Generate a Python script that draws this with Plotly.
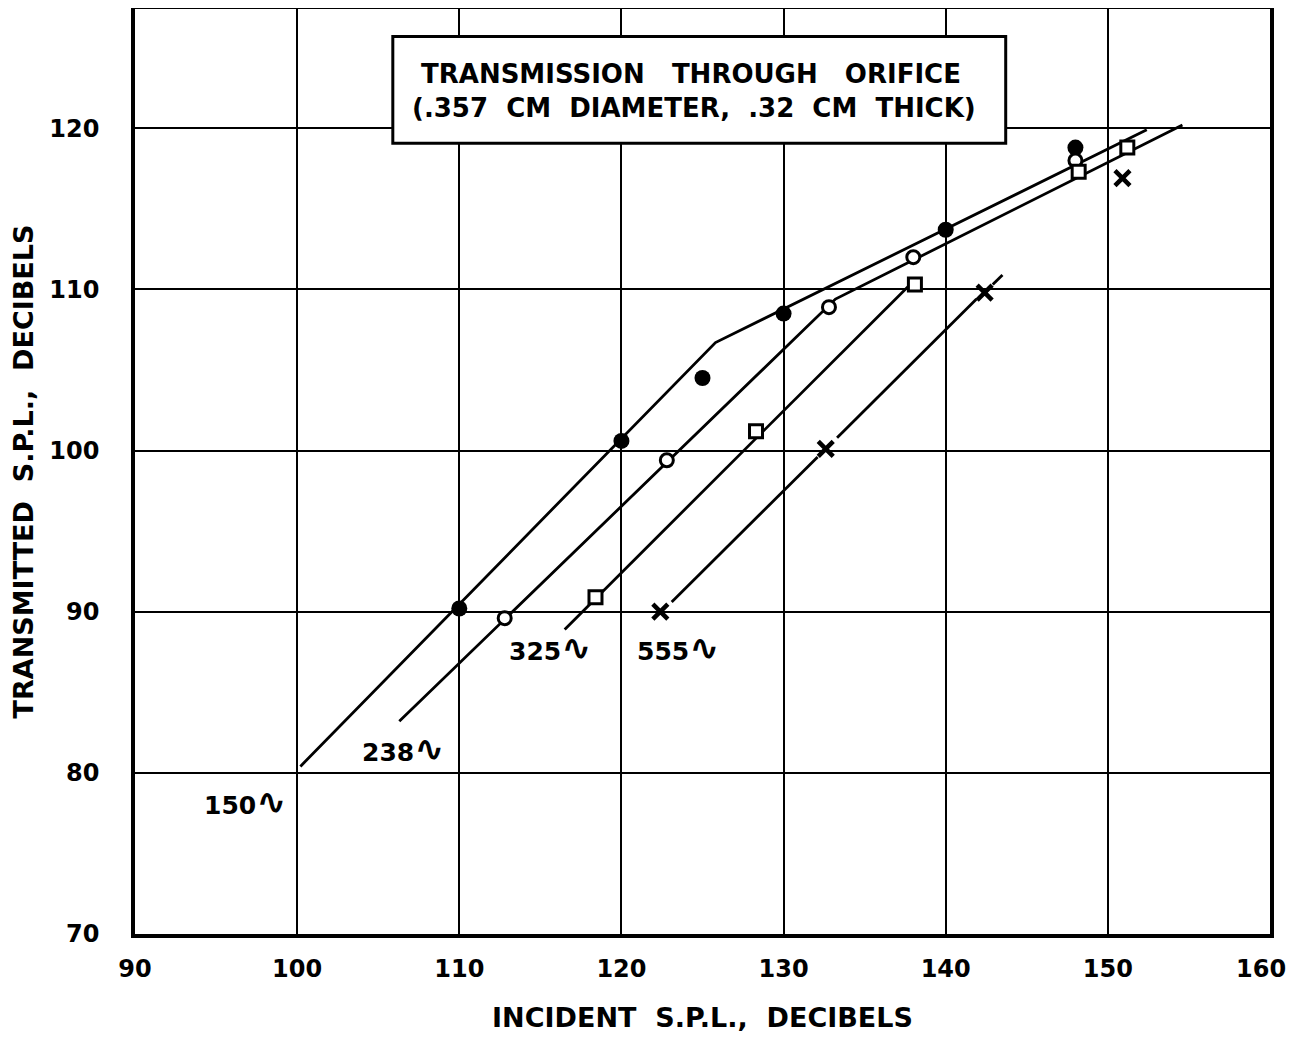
import plotly.graph_objects as go

# ---- data ----
x_150 = [110.0, 120.0, 125.0, 130.0, 140.0, 148.0]
y_150 = [90.2, 100.6, 104.5, 108.5, 113.7, 118.8]

x_238 = [112.8, 122.8, 132.8, 138.0, 148.0]
y_238 = [89.6, 99.4, 108.9, 112.0, 118.0]

x_325 = [118.4, 128.3, 138.1, 148.2, 151.2]
y_325 = [90.9, 101.2, 110.3, 117.3, 118.8]

x_555 = [122.4, 132.6, 142.4, 150.9]
y_555 = [90.0, 100.1, 109.8, 116.9]

# hand-drawn fitted curves (vertices)
curve_150_x = [100.2, 125.8, 152.4]
curve_150_y = [80.4, 106.7, 119.9]
curve_238_x = [106.3, 133.2, 154.6]
curve_238_y = [83.2, 109.4, 120.2]
curve_325_x = [116.5, 137.7]
curve_325_y = [88.9, 110.2]
curve_555_x = [123.1, 132.1, None, 133.3, 141.9, None, 142.9, 143.5]
curve_555_y = [90.6, 99.6, None, 100.8, 109.4, None, 110.3, 110.9]

curve_numbers = ["150", "238", "325", "555"]
label_x = [96.8, 106.5, 115.6, 123.5]
label_y = [78.2, 81.5, 87.8, 87.8]

x_ticks = [90, 100, 110, 120, 130, 140, 150, 160]
y_ticks = [70, 80, 90, 100, 110, 120]

title_lines = ["TRANSMISSION   THROUGH   ORIFICE", "(.357  CM  DIAMETER,  .32  CM  THICK)"]
x_title = "INCIDENT  S.P.L.,  DECIBELS"
y_title = "TRANSMITTED  S.P.L.,  DECIBELS"

FONT = "DejaVu Sans"
INK = "black"

fig = go.Figure()

line_style = dict(color=INK, width=2.8)
for cx, cy in [(curve_150_x, curve_150_y), (curve_238_x, curve_238_y),
               (curve_325_x, curve_325_y), (curve_555_x, curve_555_y)]:
    fig.add_trace(go.Scatter(x=cx, y=cy, mode="lines", line=line_style,
                             hoverinfo="skip", showlegend=False, connectgaps=False))

fig.add_trace(go.Scatter(x=x_150, y=y_150, mode="markers", showlegend=False,
                         marker=dict(symbol="circle", size=16, color=INK,
                                     line=dict(color=INK, width=0))))
fig.add_trace(go.Scatter(x=x_238, y=y_238, mode="markers", showlegend=False,
                         marker=dict(symbol="circle", size=13, color="white",
                                     line=dict(color=INK, width=3))))
fig.add_trace(go.Scatter(x=x_325, y=y_325, mode="markers", showlegend=False,
                         marker=dict(symbol="square", size=13, color="white",
                                     line=dict(color=INK, width=3))))
fig.add_trace(go.Scatter(x=x_555, y=y_555, mode="markers", showlegend=False,
                         marker=dict(symbol="x-thin", size=15, color=INK,
                                     line=dict(color=INK, width=4.5))))

BOLD = dict(family=FONT, color=INK, weight="bold")

annotations = []
for t, lx, ly in zip(curve_numbers, label_x, label_y):
    annotations.append(dict(x=lx, y=ly,
                            text=t + "<span style='font-size:36px'>∿</span>",
                            showarrow=False, font=dict(size=25, **BOLD)))

annotations.append(dict(x=124.3, y=123.38, text=title_lines[0], showarrow=False,
                        font=dict(size=26, **BOLD)))
annotations.append(dict(x=124.5, y=121.23, text=title_lines[1], showarrow=False,
                        font=dict(size=26, **BOLD)))

# the last x tick label sits at the right edge of the page: place it as an
# annotation anchored on its right side so it is not dropped
last_tick = x_ticks[-1]
annotations.append(dict(x=last_tick, xref="x", y=0, yref="paper", text=str(last_tick),
                        showarrow=False, xanchor="right", yanchor="middle",
                        xshift=18, yshift=-35, font=dict(size=24, **BOLD)))

x_ticktext = [str(v) for v in x_ticks[:-1]] + [""]

shapes = [dict(type="rect", xref="x", yref="y", x0=105.9, x1=143.7, y0=119.07, y1=125.7,
               line=dict(color=INK, width=3), fillcolor="white", layer="above")]

# the page places the figure 8px in from the window's top-left corner;
# keep the figure small enough that the page does not overflow the window
fig.update_layout(
    width=1281, height=1025,
    margin=dict(l=127, r=19, t=1, b=99),
    paper_bgcolor="white", plot_bgcolor="white",
    font=dict(family=FONT, color=INK),
    annotations=annotations,
    shapes=shapes,
    xaxis=dict(range=[90, 160], tickvals=x_ticks, ticktext=x_ticktext,
               showgrid=True, gridcolor=INK, gridwidth=1.6, zeroline=False,
               showline=True, linecolor=INK, linewidth=3.5, mirror=True,
               ticks="", ticklabelstandoff=10, automargin=False,
               tickfont=dict(size=24, **BOLD),
               title=dict(text=x_title, font=dict(size=27, **BOLD), standoff=32)),
    yaxis=dict(range=[70, 127.4], tickvals=y_ticks, ticktext=[str(v) for v in y_ticks],
               showgrid=True, gridcolor=INK, gridwidth=1.6, zeroline=False,
               showline=True, linecolor=INK, linewidth=3.5, mirror=True,
               ticks="", ticklabelstandoff=27, automargin=False,
               tickfont=dict(size=24, **BOLD),
               title=dict(text=y_title, font=dict(size=27, **BOLD), standoff=24)),
)

fig.write_html("out.html")
